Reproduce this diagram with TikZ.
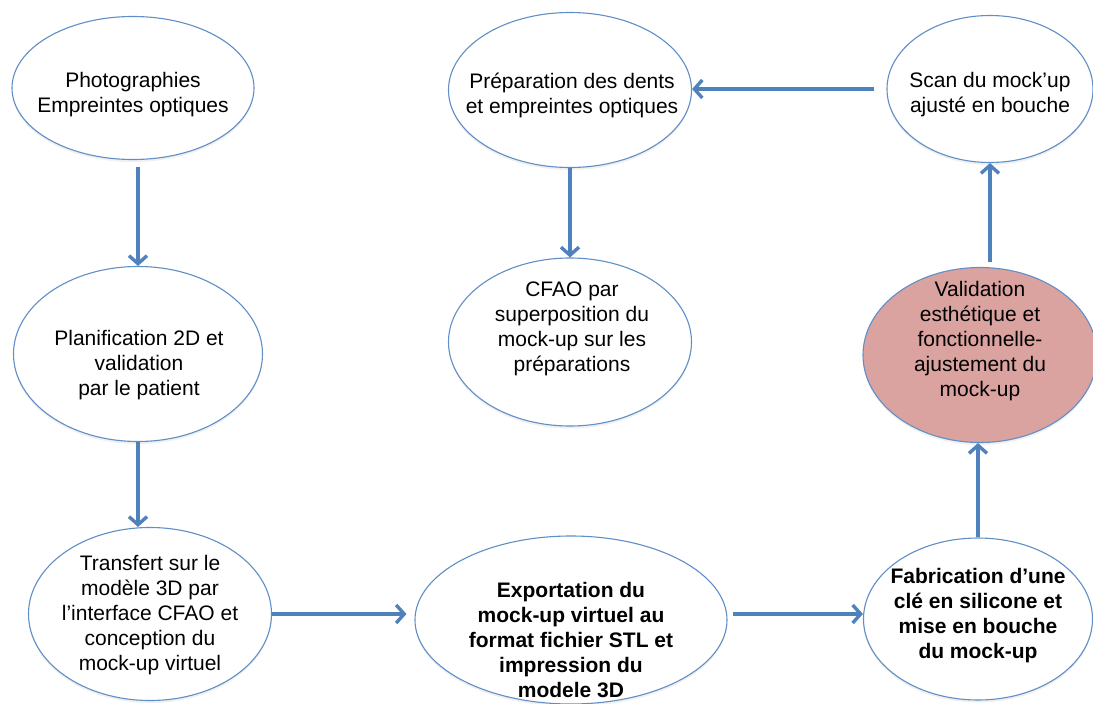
\documentclass[tikz,border=0pt]{standalone}
\usepackage{fontspec}
\setmainfont{Liberation Sans}
\usetikzlibrary{shapes.geometric,arrows.meta,shadows}
\definecolor{flowBlue}{RGB}{79,129,189}
\definecolor{flowEdge}{RGB}{96,142,198}
\definecolor{flowPink}{RGB}{219,163,160}

\begin{document}
\begin{tikzpicture}[x=1pt,y=-1pt,
  stage/.style={ellipse, draw=flowEdge, line width=1.1pt, fill=white, inner sep=0pt,
    drop shadow={opacity=0.12, shadow xshift=0pt, shadow yshift=-2.5pt}},
  stageText/.style={inner sep=0pt, align=center, font=\fontsize{21}{25}\selectfont},
  flow/.style={draw=flowBlue, line width=3.4pt, -{Straight Barb[length=8pt,width=18pt]}}]
\useasboundingbox (0,0) rectangle (1093,704);
% ellipses
\node[stage, minimum width=242pt, minimum height=143pt] (photo) at (133,88) {};
\node[stage, minimum width=249pt, minimum height=175pt] (plan) at (138,354) {};
\node[stage, minimum width=243pt, minimum height=173pt] (transfert) at (150,614) {};
\node[stage, minimum width=312pt, minimum height=168pt] (export) at (571,620) {};
\node[stage, minimum width=229pt, minimum height=162pt] (cle) at (978,619) {};
\node[stage, minimum width=234pt, minimum height=175pt, fill=flowPink] (valid) at (980,355) {};
\node[stage, minimum width=206pt, minimum height=147pt] (scan) at (990,89) {};
\node[stage, minimum width=243pt, minimum height=155pt] (prep) at (570,90) {};
\node[stage, minimum width=243pt, minimum height=168pt] (cfao) at (570,342) {};
% textes
\node[stageText] (photoText) at (133,95) {Photographies\\Empreintes optiques};
\node[stageText] (planText) at (139,365) {Planification 2D et\\validation\\par le patient};
\node[stageText] (transfertText) at (150,615) {Transfert sur le\\modèle 3D par\\l’interface CFAO et\\conception du\\mock-up virtuel};
\node[stageText, font=\fontsize{21}{25}\selectfont\bfseries] (exportText) at (571,640) {Exportation du\\mock-up virtuel au\\format fichier STL et\\impression du\\modele 3D};
\node[stageText, font=\fontsize{21}{25}\selectfont\bfseries] (cleText) at (978,616) {Fabrication d’une\\clé en silicone et\\mise en bouche\\du mock-up};
\node[stageText] (validText) at (980,341) {Validation\\esthétique et\\fonctionnelle-\\ajustement du\\mock-up};
\node[stageText] (scanText) at (990,95) {Scan du mock’up\\ajusté en bouche};
\node[stageText] (prepText) at (572,95) {Préparation des dents\\et empreintes optiques};
\node[stageText] (cfaoText) at (572,329) {CFAO par\\superposition du\\mock-up sur les\\préparations};
% fleches
\draw[flow, shorten <=7pt] (plan.north |- photo.south) -- (plan.north);
\draw[flow] (plan.south) -- (plan.south |- transfert.north);
\draw[flow, shorten >=8pt] (transfert.east) -- (export.west |- transfert.east);
\draw[flow, shorten <=5pt] (export.east |- transfert.east) -- (cle.west |- transfert.east);
\draw[flow] (cle.north) -- (cle.north |- valid.south);
\draw[flow, shorten <=5pt] (scan.south |- valid.north) -- (scan.south);
\draw[flow, shorten <=12pt] (scan.west) -- (scan.west -| prep.east);
\draw[flow] (prep.south) -- (cfao.north);
\end{tikzpicture}
\end{document}
